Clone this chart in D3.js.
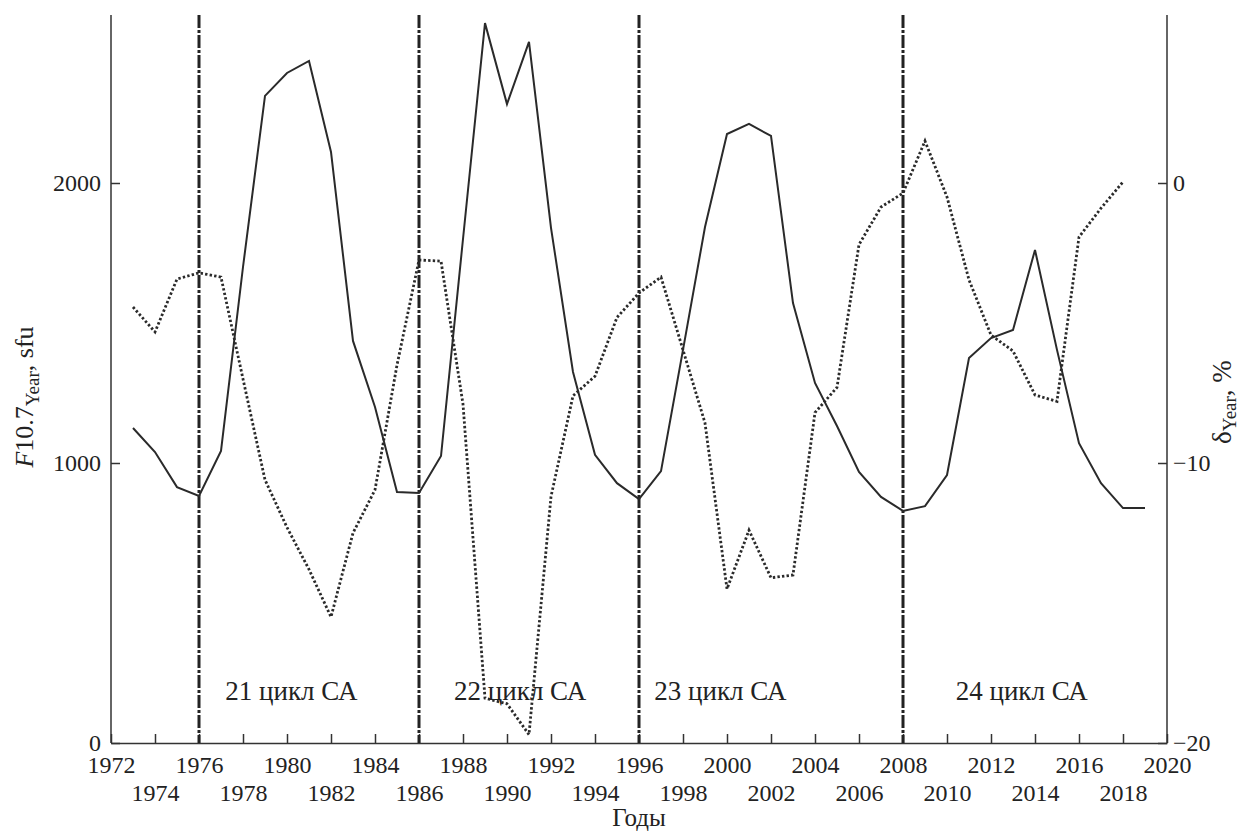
<!DOCTYPE html>
<html>
<head>
    <meta charset="utf-8" />
    <title>F10.7 и δ по годам</title>
    <style>
    body { margin: 0; background: #fff; }
    svg { display: block; font-family: "Liberation Serif", "Times New Roman", serif; }
    .axis path, .axis line { stroke: #333; stroke-width: 1.5px; }
    .axis text { font-size: 24px; fill: #222; font-family: "Liberation Serif", serif; }
    </style>
</head>
<body>
    <svg id="chart" width="1242" height="833"></svg>
    <script src="https://d3js.org/d3.v7.min.js"></script>
    <script>
        // years and series
        var years = d3.range(1973, 2020);
        var f107 = [1125, 1039, 914, 882, 1043, 1700, 2311, 2393, 2436, 2111, 1436, 1200, 896,
                    893, 1025, 1800, 2571, 2282, 2504, 1840, 1325, 1029, 928, 871, 971, 1404,
                    1843, 2175, 2211, 2168, 1571, 1286, 1132, 968, 879, 829, 846, 957, 1375,
                    1446, 1475, 1761, 1404, 1071, 928, 839, 839];
        var deltaYears = d3.range(1973, 2019);
        var delta = [-4.43, -5.32, -3.43, -3.21, -3.36, -7.0, -10.6, -12.3, -13.8, -15.5, -12.5,
                     -10.96, -6.5, -2.75, -2.79, -7.9, -18.4, -18.6, -19.7, -11.2, -7.6, -6.9,
                     -4.8, -3.93, -3.36, -5.96, -8.57, -14.5, -12.4, -14.1, -14.0, -8.2, -7.3,
                     -2.2, -0.86, -0.36, 1.5, -0.5, -3.46, -5.43, -6.0, -7.57, -7.8, -1.93,
                     -0.9, 0.04];
        var cycleBounds = [1976, 1986, 1996, 2008];
        var cycleNames = ["21 цикл СА", "22 цикл СА", "23 цикл СА", "24 цикл СА"];
        var cycleLabelYears = [1980.2, 1990.6, 1999.7, 2013.4];
        var xTicks = d3.range(1972, 2021, 2);
        var leftTicks = [0, 1000, 2000];
        var rightTicks = [-20, -10, 0];

        var svg = d3.select("#chart");
        // note: "top" is taken by window.top, so plot edges get their own names
        var pLeft = 111, pRight = 1167, pTop = 15, pBottom = 743;

        var x = d3.scaleLinear().domain([1972, 2020]).range([pLeft, pRight]);
        var yL = d3.scaleLinear().domain([0, 2600]).range([pBottom, pTop]);
        var yR = d3.scaleLinear().domain([-20, 6]).range([pBottom, pTop]);

        // bottom axis, ticks pointing inward, labels in two rows
        var gx = svg.append("g").attr("class", "axis")
            .attr("transform", "translate(0," + pBottom + ")")
            .call(d3.axisBottom(x).tickValues(xTicks).tickSizeInner(-9).tickSizeOuter(0).tickFormat(""));
        gx.selectAll(".tick text")
            .text(function(d) { return d; })
            .attr("y", function(d) { return (d - 1972) % 4 === 0 ? 30 : 58; })
            .attr("dy", 0);

        var gl = svg.append("g").attr("class", "axis")
            .attr("transform", "translate(" + pLeft + ",0)")
            .call(d3.axisLeft(yL).tickValues(leftTicks).tickSizeInner(-9).tickSizeOuter(0)
                .tickPadding(10).tickFormat(d3.format("d")));
        gl.select(".domain").attr("d", "M0," + pTop + "V" + pBottom);
        gl.selectAll(".tick text").attr("dy", "0.3em");

        var gr = svg.append("g").attr("class", "axis")
            .attr("transform", "translate(" + pRight + ",0)")
            .call(d3.axisRight(yR).tickValues(rightTicks).tickSizeInner(-9).tickSizeOuter(0)
                .tickPadding(6).tickFormat(function(d) { return d < 0 ? "\u2212" + Math.abs(d) : d; }));
        gr.select(".domain").attr("d", "M0," + pTop + "V" + pBottom);

        // cycle boundaries
        svg.append("g").selectAll("line")
            .data(cycleBounds)
            .enter().append("line")
            .attr("x1", function(d) { return x(d); })
            .attr("x2", function(d) { return x(d); })
            .attr("y1", pTop)
            .attr("y2", pBottom)
            .attr("stroke", "#222")
            .attr("stroke-width", 3)
            .attr("stroke-dasharray", "13,2,3,2");

        svg.append("g").selectAll("text")
            .data(cycleNames)
            .enter().append("text")
            .attr("x", function(d, i) { return x(cycleLabelYears[i]); })
            .attr("y", 700)
            .attr("text-anchor", "middle")
            .attr("font-size", 27)
            .attr("fill", "#222")
            .text(function(d) { return d; });

        // series
        var lineF = d3.line()
            .x(function(d, i) { return x(years[i]); })
            .y(function(d) { return yL(d); });
        var lineD = d3.line()
            .x(function(d, i) { return x(deltaYears[i]); })
            .y(function(d) { return yR(d); });

        svg.append("path").datum(delta)
            .attr("d", lineD)
            .attr("fill", "none")
            .attr("stroke", "#2a2a2a")
            .attr("stroke-width", 2.8)
            .attr("stroke-dasharray", "2.4,2.2");

        svg.append("path").datum(f107)
            .attr("d", lineF)
            .attr("fill", "none")
            .attr("stroke", "#2a2a2a")
            .attr("stroke-width", 2);

        // axis titles
        var lt = svg.append("text")
            .attr("transform", "translate(33,397) rotate(-90)")
            .attr("text-anchor", "middle")
            .attr("font-size", 26)
            .attr("fill", "#222");
        lt.append("tspan").attr("font-style", "italic").text("F");
        lt.append("tspan").text("10.7");
        lt.append("tspan").attr("font-size", 19).attr("dy", 6).text("Year");
        lt.append("tspan").attr("dy", -6).text(", sfu");

        var rt = svg.append("text")
            .attr("transform", "translate(1231,402) rotate(-90)")
            .attr("text-anchor", "middle")
            .attr("font-size", 27)
            .attr("fill", "#222");
        rt.append("tspan").text("δ");
        rt.append("tspan").attr("font-size", 19).attr("dy", 5).text("Year");
        rt.append("tspan").attr("dy", -5).text(", %");

        svg.append("text")
            .attr("x", (pLeft + pRight) / 2)
            .attr("y", 826)
            .attr("text-anchor", "middle")
            .attr("font-size", 25)
            .attr("fill", "#222")
            .text("Годы");
    </script>
</body>
</html>
